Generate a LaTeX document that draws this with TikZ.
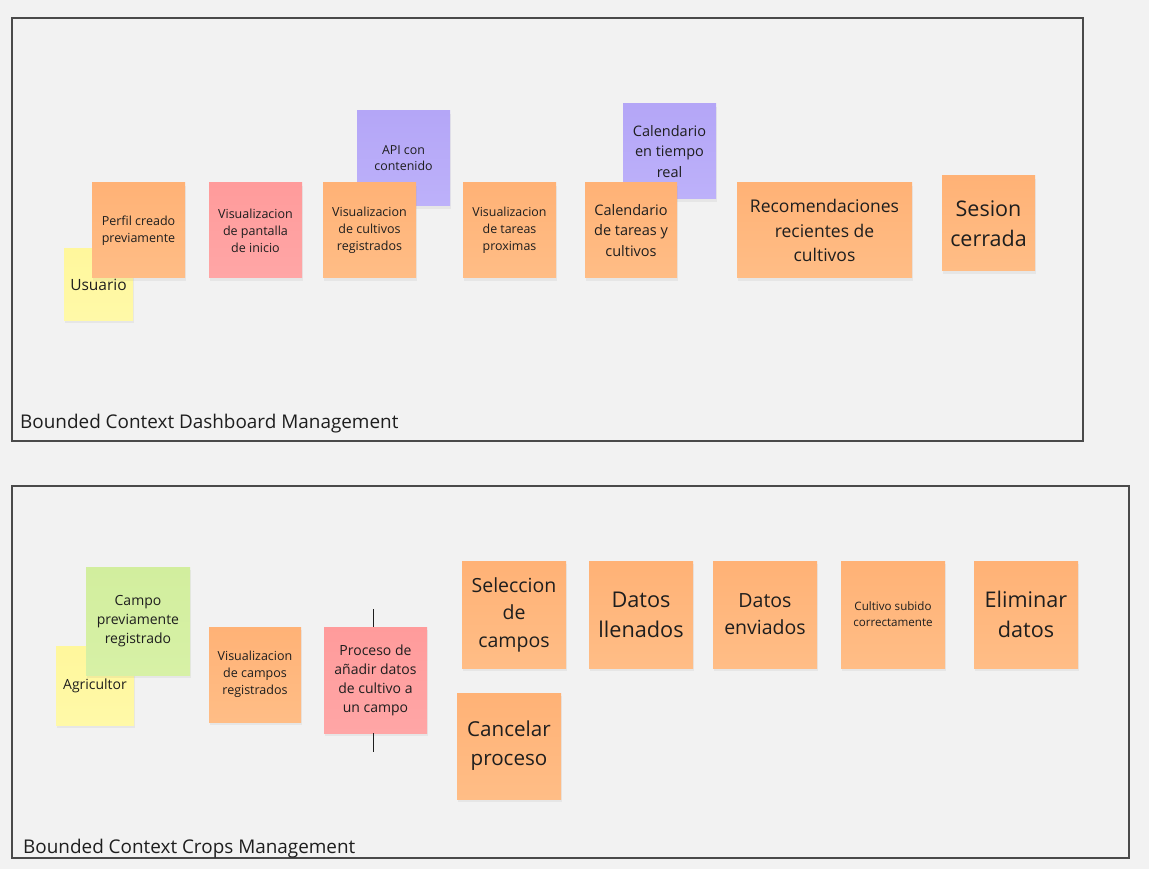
\documentclass[tikz,border=0pt]{standalone}
\usepackage{fontspec}
\setmainfont{Open Sans}
\usetikzlibrary{shadows}
\definecolor{bg}{HTML}{F2F2F2}
\definecolor{frameline}{HTML}{4A4A4A}
\definecolor{txt}{HTML}{1E1E1E}
\definecolor{orT}{HTML}{FFB276}
\definecolor{orB}{HTML}{FFBD86}
\definecolor{rdT}{HTML}{FF9B9B}
\definecolor{rdB}{HTML}{FFA6A6}
\definecolor{puT}{HTML}{B4A6F7}
\definecolor{puB}{HTML}{BDB1FA}
\definecolor{yeT}{HTML}{FFF79C}
\definecolor{yeB}{HTML}{FFF9A8}
\definecolor{grT}{HTML}{D2EE9E}
\definecolor{grB}{HTML}{D7F1A6}
\tikzset{
  note/.style={inner sep=1pt, align=center, text=txt, anchor=center,
    drop shadow={shadow xshift=1pt, shadow yshift=-3pt, opacity=0.10}},
  orange/.style={note, top color=orT, bottom color=orB},
  red/.style={note, top color=rdT, bottom color=rdB},
  purple/.style={note, top color=puT, bottom color=puB},
  yellow/.style={note, top color=yeT, bottom color=yeB},
  green/.style={note, top color=grT, bottom color=grB},
  sz/.style 2 args={minimum width=#1pt, minimum height=#2pt},
  frame/.style={draw=frameline, line width=1.1pt, fill=none, inner sep=0pt},
  flabel/.style={anchor=base west, text=txt, inner sep=0pt, font=\fontsize{18.9}{22}\selectfont},
  small/.style={font=\fontsize{12.5}{17}\selectfont},
  mid/.style={font=\fontsize{14}{19}\selectfont},
  fs/.style 2 args={font=\fontsize{#1}{#2}\selectfont},
  tick/.style={draw=txt, line width=1pt}
}
\begin{document}
\begin{tikzpicture}[x=1pt,y=-1pt]
\useasboundingbox (0,0) rectangle (1149,869);
\fill[bg] (0,0) rectangle (1149,869);

% frames
\node[frame, sz={1071}{423}] (dashframe) at (547.5,229.5) {};
\node[frame, sz={1117}{372}] (cropframe) at (570.5,672) {};
\node[flabel] (dashlabel) at (20,428) {Bounded Context Dashboard Management};
\node[flabel] (croplabel) at (23,853) {Bounded Context Crops Management};

% --- Dashboard ---
\node[yellow, sz={69}{71}, fs={15.5}{20}] (usuario) at (98.5,284.5) {Usuario};
\node[orange, sz={93}{95}, small] (perfil) at (138.5,230.5) {Perfil creado\\previamente};
\node[red, sz={93}{95}, small] (pantalla) at (255.5,230.5) {Visualizacion\\de pantalla\\de inicio};
\node[purple, sz={93}{95}, fs={12.4}{16}] (api) at (403.5,158.5) {API con\\contenido};
\node[orange, sz={93}{95}, small] (cultreg) at (369.5,230.5) {Visualizacion\\de cultivos\\registrados};
\node[orange, sz={93}{95}, fs={12.4}{17}] (tareas) at (509.5,230.5) {Visualizacion\\de tareas\\proximas};
\node[purple, sz={93}{95}, fs={14.5}{20.5}] (caltiempo) at (669.5,151.5) {Calendario\\en tiempo\\real};
\node[orange, sz={92}{95}, fs={14.5}{20.5}] (caltareas) at (631,230.5) {Calendario\\de tareas y\\cultivos};
\node[orange, sz={175}{95}, fs={17.5}{24.5}] (recom) at (824.5,230.5) {Recomendaciones\\recientes de\\cultivos};
\node[orange, sz={93}{95}, fs={21.5}{30}] (sesion) at (988.5,223.5) {Sesion\\cerrada};

% --- Crops ---
\node[yellow, sz={78}{79}, mid] (agri) at (95,685.5) {Agricultor};
\node[green, sz={104}{108}, mid] (campo) at (138,621) {Campo\\previamente\\registrado};
\node[orange, sz={92}{95}, small] (campos) at (255,674.5) {Visualizacion\\de campos\\registrados};
\node[red, sz={103}{106}, mid] (proc) at (375.5,680) {Proceso de\\añadir datos\\de cultivo a\\un campo};
\coordinate (tickTop) at (373,609);
\coordinate (tickBot) at (373,752);
\draw[tick] (proc.north -| tickTop) -- (tickTop);
\draw[tick] (proc.south -| tickBot) -- (tickBot);
\node[orange, sz={104}{107}, fs={19.5}{27.5}] (selec) at (514,614.5) {Seleccion\\de\\campos};
\node[orange, sz={104}{107}, fs={21.7}{30}] (llenados) at (641,614.5) {Datos\\llenados};
\node[orange, sz={104}{107}, fs={19.5}{27}] (enviados) at (765,614.5) {Datos\\enviados};
\node[orange, sz={104}{107}, fs={11.6}{16}] (subido) at (893,614.5) {Cultivo subido\\correctamente};
\node[orange, sz={104}{107}, fs={21.6}{30}] (eliminar) at (1026,614.5) {Eliminar\\datos};
\node[orange, sz={104}{106}, fs={20.6}{29}] (cancelar) at (509,746) {Cancelar\\proceso};
\end{tikzpicture}
\end{document}
